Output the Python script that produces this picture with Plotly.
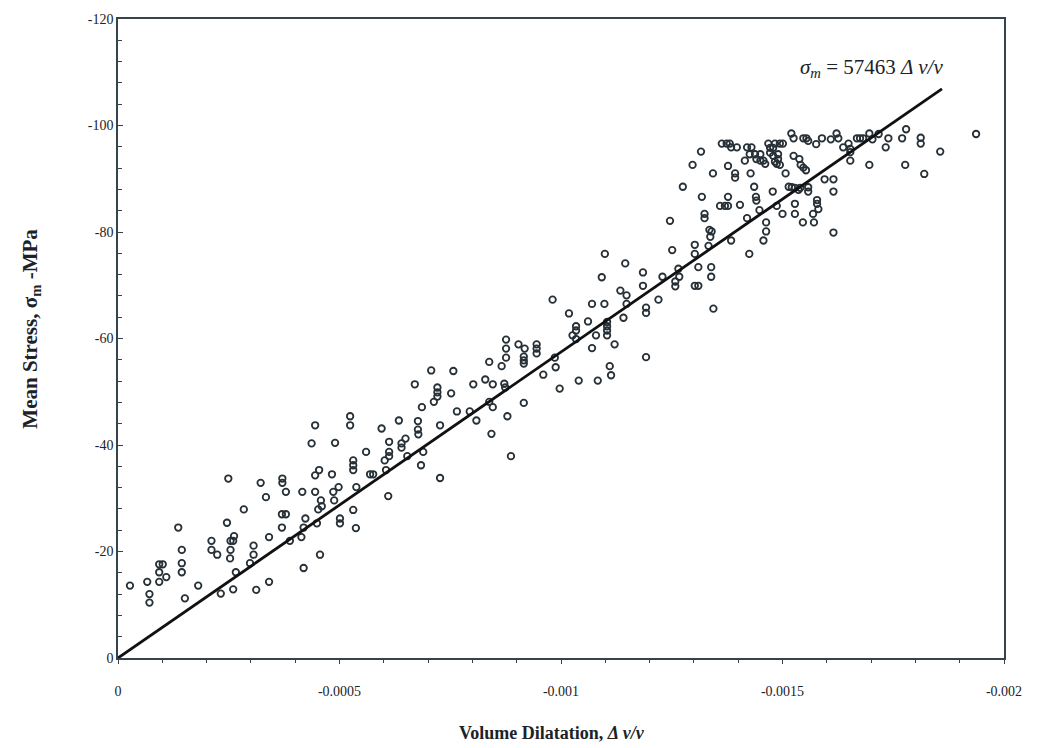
import plotly.graph_objects as go

# Volume dilatation (dv/v) and mean stress (MPa)
dilatation = [
    # low range
    -4.45e-4, -4.37e-4, -4.90e-4, -4.54e-4, -4.45e-4, -4.83e-4, -2.49e-4, -3.22e-4, -3.71e-4, -3.71e-4,
    -3.79e-4, -4.16e-4, -4.45e-4, -4.86e-4, -4.98e-4, -3.34e-4, -4.58e-4, -4.88e-4, -4.52e-4, -4.60e-4,
    -2.84e-4, -3.70e-4, -3.79e-4, -4.23e-4, -4.49e-4, -5.01e-4, -2.46e-4, -1.36e-4, -3.70e-4, -4.19e-4,
    -3.41e-4, -4.14e-4, -3.88e-4, -2.62e-4, -2.54e-4, -2.60e-4, -2.11e-4, -1.44e-4, -2.11e-4, -2.24e-4,
    -2.54e-4, -3.06e-4, -3.06e-4, -2.53e-4, -2.98e-4, -4.56e-4, -1.44e-4, -0.93e-4, -1.01e-4, -0.93e-4,
    -1.44e-4, -1.09e-4, -2.66e-4, -4.19e-4, -0.27e-4, -0.66e-4, -0.93e-4, -1.81e-4, -3.41e-4, -0.71e-4,
    -0.71e-4, -1.51e-4, -2.32e-4, -2.60e-4, -3.12e-4,
    # mid-low range
    -8.76e-4, -8.76e-4, -8.76e-4, -9.04e-4, -9.18e-4, -9.45e-4, -9.45e-4, -9.45e-4, -9.16e-4, -9.16e-4,
    -9.16e-4, -8.38e-4, -8.66e-4, -7.07e-4, -7.57e-4, -8.29e-4, -8.46e-4, -8.72e-4, -8.74e-4, -8.02e-4,
    -6.70e-4, -7.21e-4, -7.21e-4, -7.21e-4, -7.52e-4, -7.13e-4, -6.86e-4, -8.38e-4, -8.46e-4, -9.16e-4,
    -7.65e-4, -7.94e-4, -8.09e-4, -8.79e-4, -5.24e-4, -5.24e-4, -6.34e-4, -6.77e-4, -7.27e-4, -5.95e-4,
    -6.77e-4, -6.78e-4, -8.43e-4, -6.49e-4, -6.12e-4, -6.40e-4, -6.40e-4, -5.60e-4, -6.12e-4, -6.12e-4,
    -6.02e-4, -6.53e-4, -6.89e-4, -8.87e-4, -5.31e-4, -5.31e-4, -5.31e-4, -6.84e-4, -6.05e-4, -5.69e-4,
    -5.76e-4, -7.27e-4, -5.38e-4, -6.10e-4, -5.31e-4, -5.01e-4, -5.37e-4,
    # mid range
    -12.46e-4, -10.99e-4, -12.51e-4, -13.02e-4, -13.02e-4, -11.45e-4, -11.85e-4, -12.65e-4, -10.92e-4, -12.29e-4,
    -12.67e-4, -12.58e-4, -12.58e-4, -13.02e-4, -13.10e-4, -11.85e-4, -11.34e-4, -11.48e-4, -9.81e-4, -12.20e-4,
    -10.70e-4, -10.98e-4, -11.48e-4, -11.92e-4, -11.92e-4, -10.18e-4, -11.41e-4, -10.61e-4, -11.04e-4, -11.04e-4,
    -11.04e-4, -11.04e-4, -10.34e-4, -10.34e-4, -10.26e-4, -10.34e-4, -10.79e-4, -11.21e-4, -10.70e-4, -9.86e-4,
    -11.92e-4, -11.10e-4, -9.88e-4, -11.13e-4, -9.60e-4, -10.40e-4, -10.83e-4, -9.97e-4,
    # upper range
    -15.20e-4, -15.25e-4, -15.47e-4, -15.54e-4, -15.58e-4, -15.76e-4, -15.89e-4, -16.09e-4, -16.22e-4, -13.63e-4,
    -13.74e-4, -13.81e-4, -13.84e-4, -13.97e-4, -14.20e-4, -14.30e-4, -14.68e-4, -14.83e-4, -14.94e-4, -15.01e-4,
    -14.72e-4, -14.79e-4, -13.16e-4, -14.26e-4, -14.38e-4, -14.50e-4, -14.72e-4, -14.79e-4, -14.90e-4, -14.90e-4,
    -15.25e-4, -14.15e-4, -14.41e-4, -14.50e-4, -14.57e-4, -14.61e-4, -14.83e-4, -14.87e-4, -14.94e-4, -15.38e-4,
    -15.41e-4, -15.47e-4, -15.53e-4, -12.97e-4, -13.77e-4, -13.43e-4, -13.93e-4, -13.93e-4, -14.28e-4, -15.07e-4,
    -15.95e-4, -16.15e-4, -12.75e-4, -14.36e-4, -14.78e-4, -15.14e-4, -15.21e-4, -15.28e-4, -15.36e-4, -15.40e-4,
    -15.58e-4, -15.58e-4, -16.15e-4, -13.18e-4, -13.77e-4, -14.40e-4, -14.41e-4, -15.78e-4, -15.78e-4, -13.59e-4,
    -13.70e-4, -13.77e-4, -14.04e-4, -14.48e-4, -14.87e-4, -15.28e-4, -15.81e-4, -13.24e-4, -13.24e-4, -14.20e-4,
    -15.00e-4, -15.28e-4, -15.69e-4, -15.46e-4, -15.71e-4, -14.63e-4, -14.63e-4, -13.35e-4, -13.40e-4, -13.37e-4,
    -16.15e-4, -14.57e-4, -13.84e-4, -13.33e-4, -14.25e-4, -13.10e-4, -13.39e-4, -13.39e-4, -13.44e-4,
    # top range
    -19.37e-4, -17.79e-4, -17.39e-4, -17.70e-4, -18.12e-4, -18.12e-4, -18.56e-4, -17.33e-4, -16.96e-4, -17.03e-4,
    -17.17e-4, -16.68e-4, -16.75e-4, -16.82e-4, -16.26e-4, -16.37e-4, -16.49e-4, -16.53e-4, -16.53e-4, -16.53e-4,
    -16.96e-4, -17.77e-4, -18.20e-4,
]

mean_stress = [
    -43.7, -40.3, -40.4, -35.3, -34.3, -34.5, -33.7, -32.9, -33.7, -32.9,
    -31.2, -31.2, -31.2, -31.2, -32.1, -30.2, -29.6, -29.6, -27.9, -28.5,
    -27.9, -27.0, -27.0, -26.2, -25.3, -25.3, -25.4, -24.5, -24.5, -24.5,
    -22.7, -22.7, -22.0, -22.9, -22.0, -22.0, -22.0, -20.3, -20.3, -19.4,
    -20.3, -21.1, -19.4, -18.7, -17.8, -19.4, -17.8, -17.6, -17.6, -16.1,
    -16.1, -15.2, -16.1, -16.9, -13.6, -14.3, -14.3, -13.6, -14.3, -12.0,
    -10.4, -11.2, -12.1, -12.9, -12.8,
    -59.8, -58.1, -56.4, -58.9, -58.1, -58.9, -58.1, -57.2, -56.6, -55.9,
    -55.3, -55.6, -54.8, -54.0, -53.9, -52.3, -51.4, -51.5, -50.8, -51.4,
    -51.4, -50.8, -49.9, -49.1, -49.7, -48.1, -47.1, -48.1, -47.1, -47.9,
    -46.3, -46.3, -44.6, -45.4, -45.4, -43.7, -44.6, -44.5, -43.7, -43.1,
    -42.9, -42.0, -42.1, -41.2, -40.6, -40.3, -39.5, -38.7, -38.7, -37.9,
    -37.1, -37.9, -38.7, -37.9, -37.1, -36.2, -35.3, -36.2, -35.3, -34.5,
    -34.5, -33.8, -32.1, -30.4, -27.8, -26.2, -24.4,
    -82.1, -75.9, -76.6, -77.6, -75.9, -74.1, -72.4, -73.1, -71.5, -71.6,
    -71.6, -70.7, -69.8, -69.9, -69.9, -69.9, -69.0, -68.1, -67.3, -67.3,
    -66.5, -66.5, -66.5, -65.8, -64.8, -64.7, -63.9, -63.2, -63.1, -62.3,
    -61.5, -60.6, -62.3, -61.5, -60.6, -59.9, -60.6, -58.9, -58.2, -56.4,
    -56.5, -54.8, -54.6, -53.1, -53.2, -52.1, -52.1, -50.6,
    -98.5, -97.6, -97.6, -97.6, -97.1, -96.5, -97.6, -97.4, -98.5, -96.6,
    -96.6, -96.6, -95.9, -95.9, -95.9, -95.9, -96.6, -96.6, -96.6, -96.6,
    -95.8, -95.8, -95.1, -94.6, -94.6, -94.6, -94.9, -94.3, -94.6, -93.7,
    -94.3, -93.4, -93.7, -93.4, -93.4, -92.8, -93.2, -92.8, -92.6, -93.7,
    -92.6, -92.1, -91.6, -92.6, -92.4, -91.0, -91.0, -90.2, -91.0, -91.0,
    -89.9, -89.9, -88.5, -88.5, -87.6, -88.5, -88.4, -88.3, -87.9, -88.3,
    -88.4, -87.6, -87.6, -86.6, -86.6, -86.6, -85.9, -86.0, -85.3, -84.9,
    -84.9, -84.9, -85.1, -84.1, -84.9, -85.3, -84.3, -83.4, -82.6, -82.6,
    -83.4, -83.4, -83.4, -81.8, -81.8, -81.8, -80.1, -80.4, -80.1, -79.1,
    -79.9, -78.4, -78.4, -77.4, -75.9, -73.4, -73.4, -71.6, -65.6,
    -98.4, -99.3, -97.6, -97.6, -97.7, -96.6, -95.1, -95.9, -98.5, -97.4,
    -98.4, -97.6, -97.6, -97.6, -97.6, -95.9, -96.6, -95.6, -95.0, -93.4,
    -92.6, -92.6, -90.9,
]

# Fitted line  sigma_m = 57463 * dv/v
fit_modulus = 57463
fit_dilatation = [0.0, -0.00186]
fit_stress = [fit_modulus * v for v in fit_dilatation]

x_ticks = [0, -0.0005, -0.001, -0.0015, -0.002]
x_tick_labels = ["0", "-0.0005", "-0.001", "-0.0015", "-0.002"]
y_ticks = [0, -20, -40, -60, -80, -100, -120]
y_tick_labels = ["0", "-20", "-40", "-60", "-80", "-100", "-120"]

FONT = "Liberation Serif"
INK = "#1c2226"
AXIS = "#34434c"

fig = go.Figure()
fig.add_trace(go.Scatter(
    x=dilatation, y=mean_stress, mode="markers",
    marker=dict(symbol="circle-open", size=6.5, color="#263036", line=dict(width=1.8)),
    showlegend=False, hoverinfo="x+y",
))
fig.add_trace(go.Scatter(
    x=fit_dilatation, y=fit_stress, mode="lines",
    line=dict(color="#111111", width=2.8), showlegend=False,
))

fig.update_layout(
    width=1039, height=748,
    margin=dict(l=118, r=35, t=17, b=90),
    paper_bgcolor="white", plot_bgcolor="white",
    font=dict(family=FONT, color=INK, size=14),
    annotations=[
        dict(x=-0.001867, y=-110.8, xref="x", yref="y", xanchor="right", yanchor="middle",
             text="<i>σ<sub>m</sub></i> = 57463 <i>Δ v/v</i>", showarrow=False,
             font=dict(family=FONT, size=21, color=INK)),
        dict(x=-0.0985, y=0.515, xref="paper", yref="paper", xanchor="center", yanchor="middle",
             textangle=-90, text="<b>Mean Stress, σ<sub>m</sub> -MPa</b>", showarrow=False,
             font=dict(family=FONT, size=21, color=INK)),
        dict(x=0.49, y=-0.117, xref="paper", yref="paper", xanchor="center", yanchor="middle",
             text="<b>Volume Dilatation, <i>Δ v/v</i></b>", showarrow=False,
             font=dict(family=FONT, size=18, color=INK)),
    ],
)

fig.update_xaxes(
    range=[0, -0.002], tickvals=x_ticks, ticktext=x_tick_labels,
    showgrid=False, zeroline=False, showline=True, mirror=True,
    linecolor=AXIS, linewidth=1.5,
    ticks="outside", ticklen=4, tickwidth=1, tickcolor=AXIS,
    ticklabelstandoff=15,
    minor=dict(dtick=0.0001, tick0=0, ticks="outside", ticklen=3, tickcolor=AXIS, tickwidth=1),
    tickfont=dict(family=FONT, size=14, color=INK),
)
fig.update_yaxes(
    range=[0, -120], tickvals=y_ticks, ticktext=y_tick_labels,
    showgrid=False, zeroline=False, showline=True, mirror=True,
    linecolor=AXIS, linewidth=1.5,
    ticks="inside", ticklen=5, tickwidth=1, tickcolor=AXIS,
    minor=dict(dtick=4, tick0=0, ticks="inside", ticklen=4, tickcolor=AXIS, tickwidth=1),
    tickfont=dict(family=FONT, size=14, color=INK),
)

fig.write_html("out.html")
